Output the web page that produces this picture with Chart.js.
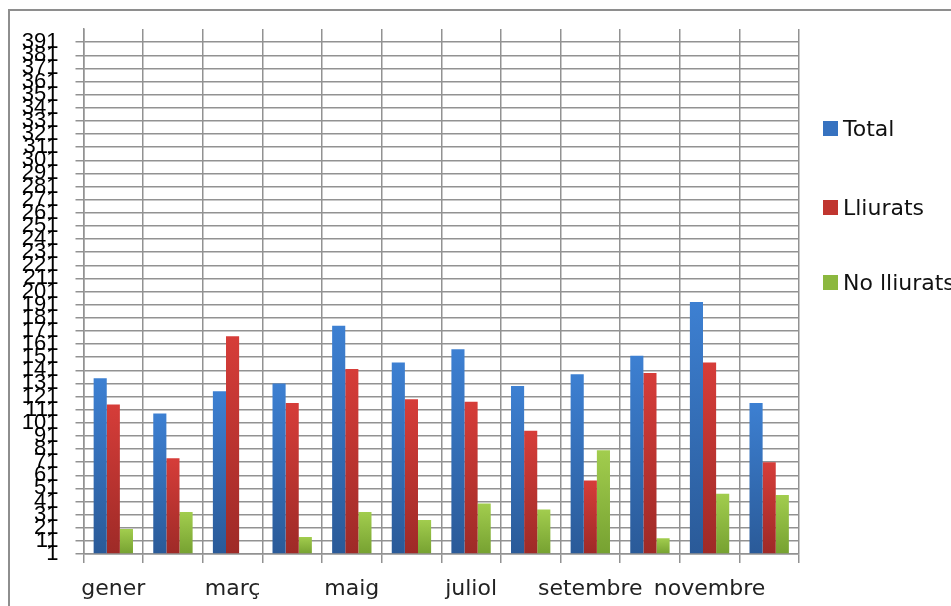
<!DOCTYPE html>
<html>
<head>
<meta charset="utf-8">
<script src="https://cdn.jsdelivr.net/npm/chart.js@4.4.1/dist/chart.umd.min.js"></script>
<style>
  html, body { margin: 0; padding: 0; background: #fff; overflow: hidden; }
  #wrap { position: relative; width: 951px; height: 606px; }
  #frame { position: absolute; left: 8px; top: 9px; width: 1000px; height: 700px;
           border: 2px solid #8e8e8e; pointer-events: none; }
  #legend { position: absolute; left: 823px; top: 0; font-family: "DejaVu Sans", sans-serif;
            font-size: 22px; color: #111; }
  #legend div { position: absolute; white-space: nowrap; display: flex; align-items: center; }
  #legend span.box { display: inline-block; width: 15px; height: 15px; margin-right: 5px; }
</style>
</head>
<body>
<div id="wrap">
  <canvas id="chart" width="951" height="606"></canvas>
  <div id="frame"></div>
  <div id="legend"></div>
</div>
<script>
/* =========================
   DATA
========================= */
const months = ['gener','febrer','març','abril','maig','juny','juliol','agost','setembre','octubre','novembre','desembre'];
const total     = [13.4, 10.7, 12.4, 13.0, 17.4, 14.6, 15.6, 12.8, 13.7, 15.1, 19.2, 11.5];
const lliurats  = [11.4,  7.3, 16.6, 11.5, 14.1, 11.8, 11.6,  9.4,  5.6, 13.8, 14.6,  7.0];
const noLliurats= [ 1.9,  3.2,  0.0,  1.3,  3.2,  2.6,  3.85, 3.4,  7.9,  1.2,  4.6,  4.5];
const yMin = 0, yMax = 40, yStep = 1;

/* =========================
   BAR GRADIENT
========================= */
function barFill(top, bottom){
    return function(ctx){
        const chart = ctx.chart;
        if(!chart.chartArea || ctx.type !== 'data') return top;
        const y = chart.scales.y;
        const v = ctx.raw || 0;
        const g = chart.ctx.createLinearGradient(0, y.getPixelForValue(v), 0, y.getPixelForValue(0));
        g.addColorStop(0, top);
        g.addColorStop(1, bottom);
        return g;
    };
}

const gridGray = '#929292';

const chart = new Chart(document.getElementById('chart'), {
    type: 'bar',
    data: {
        labels: months,
        datasets: [
            { label: 'Total', data: total, backgroundColor: barFill('#3d80d2', '#2a5a98'), legendColor: '#3672c0' },
            { label: 'Lliurats', data: lliurats, backgroundColor: barFill('#d63d39', '#9e2a27'), legendColor: '#c0352f' },
            { label: 'No lliurats', data: noLliurats, backgroundColor: barFill('#a2cd4e', '#76a131'), legendColor: '#8cb83f' }
        ]
    },
    options: {
        responsive: false,
        animation: false,
        layout: { padding: { left: 0, right: 152, top: 29, bottom: 0 } },
        datasets: { bar: { barPercentage: 1, categoryPercentage: 0.66, borderWidth: 0 } },
        plugins: { legend: { display: false }, tooltip: { enabled: false } },
        scales: {
            x: {
                grid: { color: gridGray, lineWidth: 1.5, tickLength: 9, offset: true },
                border: { color: gridGray, width: 1.5 },
                ticks: { color: '#222', maxRotation: 0, autoSkip: false, padding: 13,
                         font: { family: 'DejaVu Sans', size: 22 },
                         // only every other month fits under the axis
                         callback: (v, i) => i % 2 === 0 ? months[i] : '' },
                afterFit: s => { s.height = 52; }
            },
            y: {
                min: yMin, max: yMax,
                grid: { color: c => c.tick && c.tick.value === yMax ? 'rgba(0,0,0,0)' : gridGray,
                        lineWidth: 1.5, tickLength: 8 },
                border: { color: gridGray, width: 1.5 },
                ticks: {
                    stepSize: yStep, autoSkip: false, maxTicksLimit: 100, padding: 17, color: '#000',
                    font: { family: 'Liberation Sans', size: 22 },
                    callback: v => v === yMax ? '' : (v === 0 ? '1' : v + '1')
                },
                afterFit: s => { s.width = 83.5; s.paddingTop = 0; s.paddingBottom = 0; }
            }
        }
    }
});

/* =========================
   LEGEND (HTML)
========================= */
const legendY = [128, 207, 282];
const legend = document.getElementById('legend');
chart.data.datasets.forEach((ds, i) => {
    const row = document.createElement('div');
    row.style.top = (legendY[i] - 13) + 'px';
    row.style.height = '26px';
    row.innerHTML = '<span class="box" style="background:' + ds.legendColor + '"></span>' + ds.label;
    legend.appendChild(row);
});
</script>
</body>
</html>
